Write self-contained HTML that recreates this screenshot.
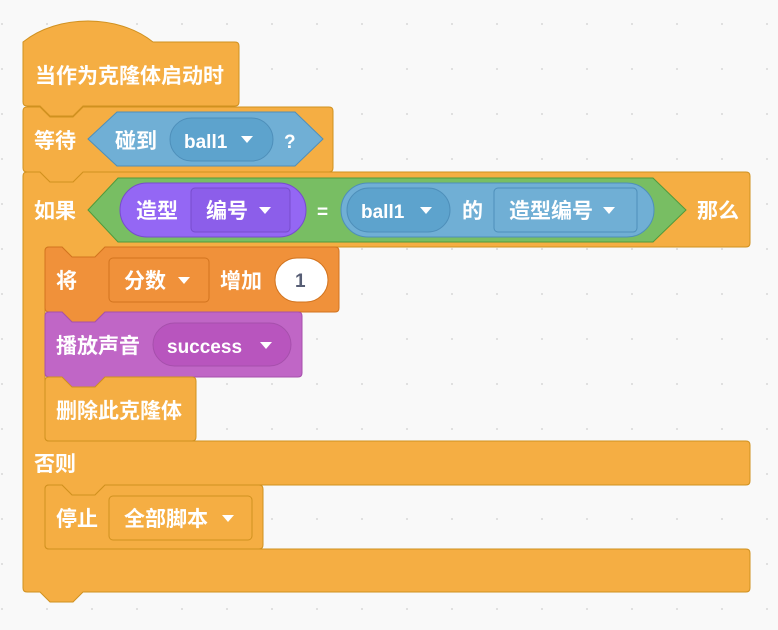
<!DOCTYPE html>
<html><head><meta charset="utf-8"><style>
html,body{margin:0;padding:0;background:#F9F9F9;}
svg{display:block}
text{font-family:"Liberation Sans","Noto Sans CJK SC",sans-serif;font-weight:bold;fill:#fff;font-size:19px;}
text.c{font-size:21px;}
</style></head><body>
<svg width="778" height="630" viewBox="0 0 778 630" xmlns="http://www.w3.org/2000/svg">
<defs>
<pattern id="dots" width="45" height="45" patternUnits="userSpaceOnUse" x="1" y="23">
<circle cx="1" cy="1" r="1" fill="#D8D8D8"/>
</pattern>
</defs>
<rect width="778" height="630" fill="#F9F9F9"/>
<rect width="778" height="630" fill="url(#dots)"/>

<path d="M23,176 Q23,172 27,172 L40,172 L50,182 L73,182 L83,172 L746,172 Q750,172 750,176 L750,243 Q750,247 746,247 L105,247 L95,257 L72,257 L62,247 L49,247 Q45,247 45,251 L45,437 Q45,441 49,441 L746,441 Q750,441 750,445 L750,481 Q750,485 746,485 L105,485 L95,495 L72,495 L62,485 L49,485 Q45,485 45,489 L45,545 Q45,549 49,549 L746,549 Q750,549 750,553 L750,588 Q750,592 746,592 L83,592 L73,602 L50,602 L40,592 L27,592 Q23,592 23,588 Z" fill="#F5AE43" stroke="#D0911F" stroke-width="1"/>

<path d="M23,111 Q23,107 27,107 L40,107 L50,117 L73,117 L83,107 L329,107 Q333,107 333,111 L333,168 Q333,172 329,172 L83,172 L73,182 L50,182 L40,172 L27,172 Q23,172 23,168 Z" fill="#F5AE43" stroke="#D0911F"/>

<path d="M23,42 C58,14 118,14 153,42 L235,42 Q239,42 239,46 L239,102 Q239,106 235,106 L83,106 L73,116 L50,116 L40,106 L27,106 Q23,106 23,102 Z" fill="#F5AE43" stroke="#D0911F"/>
<text class="c" x="35" y="83">当作为克隆体启动时</text>

<text class="c" x="34" y="148">等待</text>
<path d="M88,139 L117,112 L295,112 L323,139 L295,166 L117,166 Z" fill="#70AFD5" stroke="#4E8FBA"/>
<text class="c" x="115" y="148">碰到</text>
<rect x="170" y="118" width="103" height="43" rx="21.5" fill="#5DA3CD" stroke="#4E8FBA"/>
<text x="184" y="148">ball1</text>
<path d="M241,136 L253,136 L247,143 Z" fill="#fff"/>
<text x="284" y="148">?</text>

<text class="c" x="34" y="218">如果</text>
<path d="M88,210 L118,178 L653,178 L686,210 L653,242 L118,242 Z" fill="#78BE63" stroke="#4F9A3C"/>
<rect x="120" y="183" width="186" height="54" rx="27" fill="#9467F4" stroke="#774CCC"/>
<text class="c" x="136" y="218">造型</text>
<rect x="191" y="188" width="99" height="44" rx="4" fill="#8C5EEA" stroke="#774CCC"/>
<text class="c" x="206" y="218">编号</text>
<path d="M259,207 L271,207 L265,214 Z" fill="#fff"/>
<text x="317" y="218">=</text>
<rect x="341" y="183" width="313" height="54" rx="27" fill="#70AFD5" stroke="#4E8FBA"/>
<rect x="347" y="188" width="103" height="44" rx="22" fill="#5DA3CD" stroke="#4E8FBA"/>
<text x="361" y="218">ball1</text>
<path d="M420,207 L432,207 L426,214 Z" fill="#fff"/>
<text class="c" x="462" y="218">的</text>
<rect x="494" y="188" width="143" height="44" rx="4" fill="#70AFD5" stroke="#4E8FBA"/>
<text class="c" x="509" y="218">造型编号</text>
<path d="M603,207 L615,207 L609,214 Z" fill="#fff"/>
<text class="c" x="697" y="218">那么</text>

<path d="M45,251 Q45,247 49,247 L62,247 L72,257 L95,257 L105,247 L335,247 Q339,247 339,251 L339,308 Q339,312 335,312 L105,312 L95,322 L72,322 L62,312 L49,312 Q45,312 45,308 Z" fill="#F0913A" stroke="#D2741F"/>
<text class="c" x="56" y="288">将</text>
<rect x="109" y="258" width="100" height="44" rx="4" fill="#F0913A" stroke="#D2741F"/>
<text class="c" x="124" y="288">分数</text>
<path d="M178,277 L190,277 L184,284 Z" fill="#fff"/>
<text class="c" x="220" y="288">增加</text>
<rect x="275" y="258" width="53" height="44" rx="22" fill="#fff" stroke="#D2741F"/>
<text x="295" y="287" style="fill:#575E75">1</text>

<path d="M45,316 Q45,312 49,312 L62,312 L72,322 L95,322 L105,312 L298,312 Q302,312 302,316 L302,373 Q302,377 298,377 L105,377 L95,387 L72,387 L62,377 L49,377 Q45,377 45,373 Z" fill="#C066C6" stroke="#A650AC"/>
<text class="c" x="56" y="353">播放声音</text>
<rect x="153" y="323" width="138" height="43" rx="21.5" fill="#B855BE" stroke="#A650AC"/>
<text x="167" y="353">success</text>
<path d="M260,342 L272,342 L266,349 Z" fill="#fff"/>

<path d="M45,381 Q45,377 49,377 L62,377 L72,387 L95,387 L105,377 L192,377 Q196,377 196,381 L196,437 Q196,441 192,441 L49,441 Q45,441 45,437 Z" fill="#F5AE43" stroke="#D0911F"/>
<text class="c" x="56" y="418">删除此克隆体</text>

<text class="c" x="34" y="471">否则</text>

<path d="M45,489 Q45,485 49,485 L62,485 L72,495 L95,495 L105,485 L259,485 Q263,485 263,489 L263,545 Q263,549 259,549 L49,549 Q45,549 45,545 Z" fill="#F5AE43" stroke="#D0911F"/>
<text class="c" x="56" y="526">停止</text>
<rect x="109" y="496" width="143" height="44" rx="4" fill="#F5AE43" stroke="#D0911F"/>
<text class="c" x="124" y="526">全部脚本</text>
<path d="M222,515 L234,515 L228,522 Z" fill="#fff"/>
</svg>
</body></html>
